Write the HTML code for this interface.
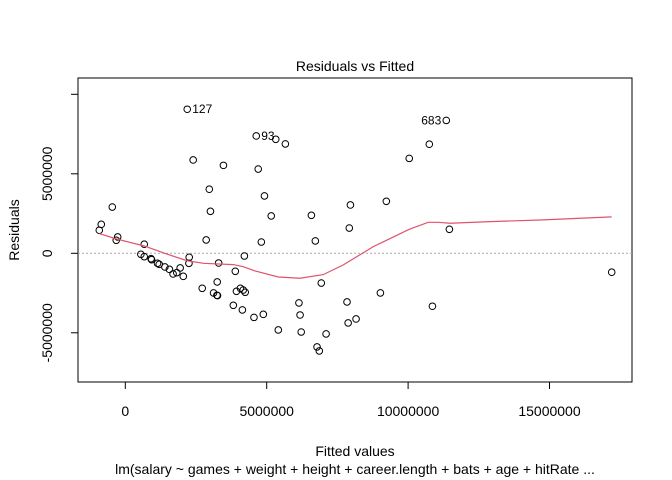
<!DOCTYPE html>
<html><head><meta charset="utf-8"><style>
body{margin:0;background:#fff}
svg{display:block;font-family:"Liberation Sans",Arial,sans-serif}
</style></head><body>
<svg id="chart" width="672" height="480" viewBox="0 0 672 480">
<rect width="672" height="480" fill="#fff"/>
<text x="355" y="71" text-anchor="middle" font-size="14">Residuals vs Fitted</text>
<text transform="translate(19,230) rotate(-90)" text-anchor="middle" font-size="14">Residuals</text>
<text x="355" y="456" text-anchor="middle" font-size="14">Fitted values</text>
<text x="355" y="474" text-anchor="middle" font-size="14">lm(salary ~ games + weight + height + career.length + bats + age + hitRate  ...</text>
<rect x="78" y="78" width="554" height="304" fill="none" stroke="#000" stroke-width="1"/>
<g id="axes"></g>
<g id="marks"></g>
</svg>
<script>
const fitted = [-0.92,-0.85,-0.46,-0.27,-0.32,0.67,0.55,0.67,0.91,0.93,1.14,1.20,1.40,1.56,1.69,1.82,1.94,2.05,2.26,2.25,2.19,2.40,3.47,2.97,3.01,2.86,2.72,3.12,3.24,3.26,3.25,3.30,3.89,3.82,4.14,3.93,4.07,4.17,4.24,4.21,4.55,4.88,4.63,5.32,5.66,4.70,4.92,5.16,4.81,5.41,6.14,6.18,6.22,6.58,6.72,6.93,6.78,6.86,7.10,7.96,7.92,7.84,7.88,8.16,11.35,10.75,10.04,9.23,11.46,17.20,9.02,10.86];
const residuals = [1.45,1.82,2.91,1.03,0.82,0.57,-0.06,-0.21,-0.34,-0.40,-0.63,-0.69,-0.86,-1.01,-1.30,-1.22,-0.92,-1.45,-0.25,-0.63,9.06,5.87,5.53,4.03,2.64,0.84,-2.20,-2.49,-2.64,-2.66,-1.80,-0.61,-1.13,-3.27,-3.56,-2.39,-2.20,-2.31,-2.45,-0.17,-4.03,-3.84,7.38,7.17,6.88,5.30,3.61,2.35,0.71,-4.82,-3.12,-3.88,-4.95,2.39,0.78,-1.87,-5.89,-6.14,-5.07,3.04,1.59,-3.06,-4.38,-4.13,8.36,6.86,5.97,3.27,1.51,-1.19,-2.49,-3.33];
const labelIdx = [20,42,64];
const labelText = ["127","93","683"];
const smoothX = [-0.92,-0.31,0.67,1.46,2.17,2.76,3.82,4.17,4.59,5.41,6.18,7.00,7.71,8.77,10.04,10.71,11.07,11.48,12.89,14.78,17.20];
const smoothY = [1.24,0.90,0.46,-0.04,-0.46,-0.63,-0.71,-0.84,-1.11,-1.49,-1.57,-1.34,-0.73,0.42,1.51,1.95,1.95,1.89,1.99,2.10,2.29];
const xTicks = [0,5,10,15];
const xTickLabels = ["0","5000000","10000000","15000000"];
const yTicks = [-5,0,5,10];
const yTickLabels = ["-5000000","0","5000000",""];

const NS="http://www.w3.org/2000/svg";
const sx = v => 125.3 + 28.28*v;
const sy = v => 253.3 - 15.9*v;
function mk(tag, attrs, parent){const e=document.createElementNS(NS,tag);for(const k in attrs)e.setAttribute(k,attrs[k]);parent.appendChild(e);return e;}
const axes=document.getElementById('axes'), marks=document.getElementById('marks');

xTicks.forEach((t,i)=>{
  const l=mk('line',{x1:sx(t),x2:sx(t),y1:382,y2:389,stroke:'#000'},axes);
  
  
  const tx=mk('text',{x:sx(t),y:416,'text-anchor':'middle','font-size':14},axes);
  tx.textContent=xTickLabels[i];
  
  
});
mk('line',{x1:sx(xTicks[0]),x2:sx(xTicks[xTicks.length-1]),y1:382,y2:382,stroke:'#000'},axes);
yTicks.forEach((t,i)=>{
  const l=mk('line',{x1:71,x2:78,y1:sy(t),y2:sy(t),stroke:'#000'},axes);
  
  
  const tx=mk('text',{transform:`translate(52,${sy(t)}) rotate(-90)`,'text-anchor':'middle','font-size':14},axes);
  tx.textContent=yTickLabels[i];
  
  
});

const zl=mk('line',{x1:78,x2:632,y1:sy(0),y2:sy(0),stroke:'#aaa','stroke-dasharray':'2,2'},marks);



fitted.forEach((f,i)=>{
  const c=mk('circle',{cx:sx(f),cy:sy(residuals[i]),r:3.3,fill:'none',stroke:'#000','stroke-width':1},marks);
  
  
});
labelIdx.forEach((idx,j)=>{
  const right = j<2;
  const t=mk('text',{x:sx(fitted[idx])+(right?5:-5),y:sy(residuals[idx])+4,'text-anchor':right?'start':'end','font-size':12},marks);
  t.textContent=labelText[j];
  
  
});
const p=mk('polyline',{points:smoothX.map((x,i)=>sx(x)+','+sy(smoothY[i])).join(' '),fill:'none',stroke:'#DF536B','stroke-width':1.2},marks);


</script>
</body></html>
